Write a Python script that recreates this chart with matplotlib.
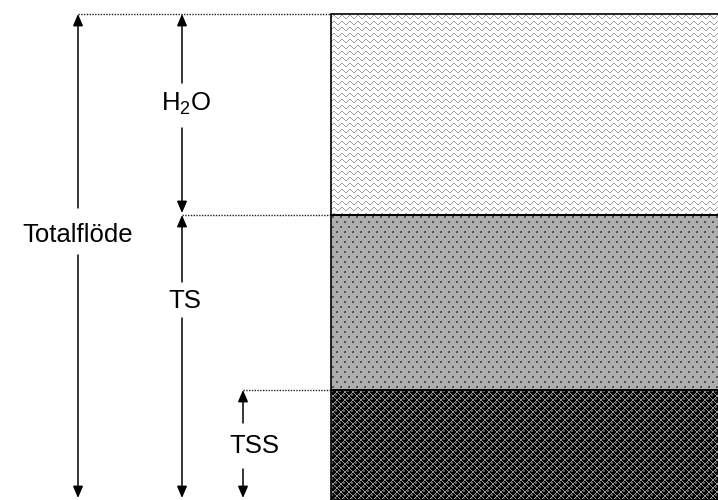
import numpy as np
import matplotlib
matplotlib.use("Agg")
import matplotlib.pyplot as plt

plt.rcParams['font.family'] = ['Liberation Sans', 'DejaVu Sans']
plt.rcParams['mathtext.fontset'] = 'custom'
plt.rcParams['mathtext.rm'] = 'Liberation Sans'
plt.rcParams['mathtext.default'] = 'regular'

### data: segment heights of the flow bar ##################################
segments = ['TSS', 'TS', 'H2O']
heights = [110, 175, 201]          # bottom -> top
labels = {'TSS': 'TSS', 'TS': 'TS', 'H2O': 'H$_2$O', 'total': 'Totalflöde'}

### textures for each segment ##############################################
def wave_tile():
    t = np.ones((6, 8))
    ys = [3, 2, 1, 1, 2, 3, 4, 4]
    for x, y in enumerate(ys):
        t[y, x] = 0.62
    return t

def dot_tile():
    t = np.full((10, 8), 0.68)
    for r, c in [(1, 1), (6, 5)]:
        t[r:r + 2, c:c + 2] = [[0.4, 0.25], [0.25, 0.4]]
    return t

def ball_tile():
    t = np.full((8, 8), 0.6)
    yy, xx = np.mgrid[0:8, 0:8] + 0.5
    for cy, cx in [(2.0, 2.0), (6.0, 6.0)]:
        dy = np.minimum(abs(yy - cy), 8 - abs(yy - cy))
        dx = np.minimum(abs(xx - cx), 8 - abs(xx - cx))
        d = np.hypot(dy, dx)
        t[d < 2.7] = 0.03
        t[(np.hypot(yy - cy + 1, xx - cx + 1) < 0.8)] = 0.35
    return t

textures = {'TSS': ball_tile(), 'TS': dot_tile(), 'H2O': wave_tile()}

fig = plt.figure(figsize=(7.18, 5.0), dpi=100)
ax = fig.add_axes([0, 0, 1, 1])
ax.set_xlim(0, 718)
ax.set_ylim(0, 500)
ax.axis('off')

bar_left, bar_right = 331, 719
bottoms = np.concatenate([[0], np.cumsum(heights)[:-1]])
bars = ax.bar([(bar_left + bar_right) / 2] * 3, heights, width=bar_right - bar_left,
              bottom=bottoms, facecolor='none', edgecolor='black', linewidth=1.2, zorder=3)

for name, patch in zip(segments, bars.patches):
    x0, y0 = patch.get_x(), patch.get_y()
    w, h = patch.get_width(), patch.get_height()
    tile = textures[name]
    ny = int(np.ceil(h / tile.shape[0])) + 1
    nx = int(np.ceil(w / tile.shape[1])) + 1
    img = np.tile(tile, (ny, nx))[:int(round(h)), :int(round(w))]
    ax.imshow(img, cmap='gray', vmin=0, vmax=1, extent=[x0, x0 + w, y0, y0 + h],
              interpolation='nearest', aspect='auto', zorder=2)

tops = np.cumsum(heights)
total = tops[-1]

def dim_arrow(x, lo, hi, text, ty, gap_up, gap_dn, tx=None, dot_from=None):
    kw = dict(arrowstyle='-|>,head_length=0.7,head_width=0.3', color='#333333',
              lw=1.1, shrinkA=0, shrinkB=0)
    ax.annotate('', xy=(x, hi), xytext=(x, ty + gap_up),
                arrowprops=dict(kw, mutation_scale=10, fc='black', ec='black'))
    ax.annotate('', xy=(x, lo + 2), xytext=(x, ty - gap_dn),
                arrowprops=dict(kw, mutation_scale=10, fc='black', ec='black'))
    ax.text(x if tx is None else tx, ty, text, ha='center', va='center', fontsize=18.5)
    if dot_from:
        ax.plot([x, bar_left], [hi, hi], color='#222222', lw=1.0,
                dashes=(1.0, 1.0), zorder=1)

# Totalflöde: whole bar
dim_arrow(78, 0, total, labels['total'], 265, 27, 20, dot_from=True)
# H2O
dim_arrow(182, tops[1], tops[2], labels['H2O'], 396, 21, 24, tx=186, dot_from=False)
# TS
dim_arrow(182, 0, tops[1], labels['TS'], 199, 19, 17, tx=185, dot_from=True)
# TSS
dim_arrow(243, 0, tops[0], labels['TSS'], 54, 23, 23, tx=254, dot_from=True)

fig.savefig('out.png', dpi=100)
